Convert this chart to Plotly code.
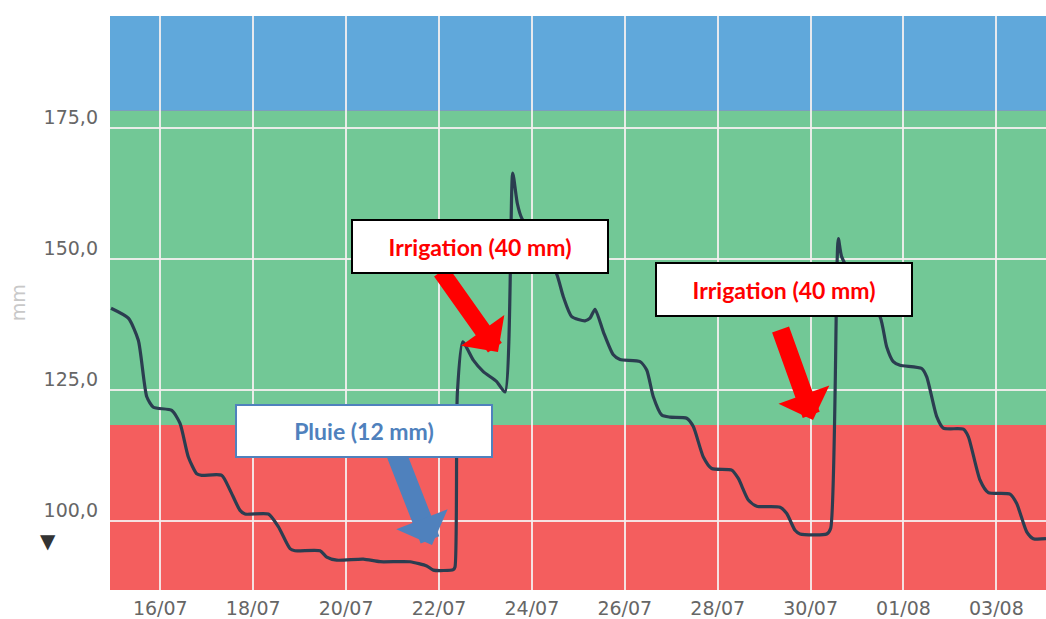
import plotly.graph_objects as go

# ---- data ----
times = [
    "2019-07-14 22:32", "2019-07-15 07:28", "2019-07-15 12:38", "2019-07-15 17:00", "2019-07-15 20:24",
    "2019-07-16 05:53", "2019-07-16 10:11", "2019-07-16 14:28", "2019-07-16 18:48", "2019-07-16 21:23",
    "2019-07-17 07:43", "2019-07-17 12:00", "2019-07-17 17:11", "2019-07-17 19:46", "2019-07-18 07:48",
    "2019-07-18 12:58", "2019-07-18 19:01", "2019-07-18 21:36", "2019-07-19 10:31", "2019-07-19 13:59",
    "2019-07-19 19:09", "2019-07-20 08:53", "2019-07-20 17:31", "2019-07-21 09:01", "2019-07-21 17:39",
    "2019-07-21 21:04", "2019-07-22 07:23", "2019-07-22 08:16", "2019-07-22 09:28", "2019-07-22 12:15",
    "2019-07-22 17:44", "2019-07-22 22:53", "2019-07-23 05:49", "2019-07-23 10:07", "2019-07-23 14:05",
    "2019-07-23 16:28", "2019-07-23 18:44", "2019-07-24 04:11", "2019-07-24 12:49", "2019-07-24 16:14",
    "2019-07-24 20:34", "2019-07-25 03:26", "2019-07-25 06:01", "2019-07-25 08:37", "2019-07-25 12:54",
    "2019-07-25 18:04", "2019-07-25 21:31", "2019-07-26 07:52", "2019-07-26 11:19", "2019-07-26 14:44",
    "2019-07-26 19:04", "2019-07-26 23:22", "2019-07-27 08:00", "2019-07-27 11:24", "2019-07-27 16:34",
    "2019-07-27 20:55", "2019-07-28 07:14", "2019-07-28 10:39", "2019-07-28 15:49", "2019-07-28 20:10",
    "2019-07-29 08:12", "2019-07-29 11:40", "2019-07-29 15:57", "2019-07-29 18:32", "2019-07-30 08:20",
    "2019-07-30 10:24", "2019-07-30 14:19", "2019-07-30 16:05", "2019-07-31 01:32", "2019-07-31 11:52",
    "2019-07-31 15:20", "2019-07-31 18:44", "2019-07-31 22:12", "2019-08-01 09:25", "2019-08-01 12:00",
    "2019-08-01 17:10", "2019-08-01 20:35", "2019-08-02 06:55", "2019-08-02 09:29", "2019-08-02 15:32",
    "2019-08-02 19:50", "2019-08-03 07:02", "2019-08-03 10:30", "2019-08-03 15:40", "2019-08-03 19:05",
    "2019-08-04 01:38",
]
reserve_mm = [
    140.6, 138.7, 134.5, 123.7, 121.7,
    121.1, 118.6, 112.2, 109.0, 108.7,
    108.7, 105.9, 102.0, 101.3, 101.3,
    98.9, 94.7, 94.3, 94.3, 93.1,
    92.5, 92.7, 92.2, 92.2, 91.4,
    90.6, 90.7, 91.2, 124.3, 134.2,
    130.7, 128.5, 126.6, 124.6, 166.4,
    160.6, 157.8, 152.7, 147.1, 142.8,
    139.0, 138.2, 138.7, 140.4, 136.1,
    131.7, 130.8, 130.4, 128.8, 123.7,
    120.2, 119.8, 119.6, 118.0, 112.2,
    110.0, 109.7, 108.1, 104.0, 102.8,
    102.6, 101.4, 98.2, 97.5, 97.5,
    98.6, 153.9, 150.4, 144.1, 139.0,
    133.2, 130.4, 129.7, 129.1, 127.5,
    119.9, 117.7, 117.5, 116.1, 107.8,
    105.4, 105.1, 103.3, 97.9, 96.6,
    96.6,
]

# zone thresholds (mm)
zone_low_top = 118.3     # red zone upper limit
zone_ok_top = 178.3      # green zone upper limit
y_range = [86.8, 196.4]
x_range = ["2019-07-14 22:00", "2019-08-04 01:38"]

tick_values = [100, 125, 150, 175]
tick_labels = ["100,0", "125,0", "150,0", "175,0"]

RED = "#F45E5E"
GREEN = "#72C896"
BLUE = "#60A8DB"
LINE = "#2B3D50"

fig = go.Figure()

fig.add_trace(go.Scatter(
    x=times, y=reserve_mm, mode="lines",
    line=dict(color=LINE, width=3.2, shape="spline", smoothing=0.6),
    hoverinfo="skip", showlegend=False,
))

# coloured zones
fig.add_shape(type="rect", xref="paper", yref="y", x0=0, x1=1,
              y0=y_range[0], y1=zone_low_top, fillcolor=RED, line_width=0, layer="below")
fig.add_shape(type="rect", xref="paper", yref="y", x0=0, x1=1,
              y0=zone_low_top, y1=zone_ok_top, fillcolor=GREEN, line_width=0, layer="below")
fig.add_shape(type="rect", xref="paper", yref="y", x0=0, x1=1,
              y0=zone_ok_top, y1=y_range[1], fillcolor=BLUE, line_width=0, layer="below")

# arrows (drawn first so the boxes cover their tails)
fig.add_annotation(x=0.4145, y=0.4146, xref="paper", yref="paper", text="",
                   showarrow=True, ax=-58, ay=-82, arrowhead=1, arrowsize=0.52,
                   arrowwidth=17, arrowcolor="#FF0000")
fig.add_annotation(x=0.7511, y=0.2962, xref="paper", yref="paper", text="",
                   showarrow=True, ax=-33, ay=-92, arrowhead=1, arrowsize=0.5,
                   arrowwidth=18, arrowcolor="#FF0000")
fig.add_annotation(x=0.3440, y=0.0784, xref="paper", yref="paper", text="",
                   showarrow=True, ax=-36, ay=-92, arrowhead=1, arrowsize=0.46,
                   arrowwidth=20, arrowcolor="#4F81BD")

box_font = dict(family="Lato", size=23, color="#FF0000")
fig.add_annotation(x=0.3953, y=0.5984, xref="paper", yref="paper",
                   xanchor="center", yanchor="middle",
                   text="<b>Irrigation (40 mm)</b>", showarrow=False,
                   font=box_font, bgcolor="white", bordercolor="black",
                   borderwidth=2, borderpad=0, width=254, height=51)
fig.add_annotation(x=0.7201, y=0.5235, xref="paper", yref="paper",
                   xanchor="center", yanchor="middle",
                   text="<b>Irrigation (40 mm)</b>", showarrow=False,
                   font=box_font, bgcolor="white", bordercolor="black",
                   borderwidth=2, borderpad=0, width=254, height=51)
fig.add_annotation(x=0.2714, y=0.2770, xref="paper", yref="paper",
                   xanchor="center", yanchor="middle",
                   text="<b>Pluie (12 mm)</b>", showarrow=False,
                   font=dict(family="Lato", size=23, color="#4F81BD"),
                   bgcolor="white", bordercolor="#4F81BD",
                   borderwidth=2, borderpad=0, width=254, height=50)

# axis title and marker
fig.add_annotation(x=-0.098, y=0.5, xref="paper", yref="paper", text="mm",
                   textangle=-90, showarrow=False, xanchor="center", yanchor="middle",
                   font=dict(family="DejaVu Sans", size=19, color="#C8C8C8"))
fig.add_annotation(x=-0.066, y=0.085, xref="paper", yref="paper", text="▼",
                   showarrow=False, xanchor="center", yanchor="middle",
                   font=dict(family="DejaVu Sans", size=20, color="#333333"))

fig.update_layout(
    width=1046, height=619,
    margin=dict(l=110, r=0, t=16, b=29),
    paper_bgcolor="white", plot_bgcolor=RED,
    font=dict(family="DejaVu Sans", size=19, color="#666666"),
)
fig.update_xaxes(
    type="date", range=x_range, tick0="2019-07-16", dtick=2 * 86400000,
    tickformat="%d/%m", showgrid=True, gridcolor="rgba(245,240,240,0.9)", gridwidth=2,
    zeroline=False, showline=False, ticks="", ticklabelstandoff=5,
    tickfont=dict(family="DejaVu Sans", size=19, color="#666666"),
)
fig.update_yaxes(
    range=y_range, tickvals=tick_values, ticktext=tick_labels,
    showgrid=True, gridcolor="rgba(245,240,240,0.9)", gridwidth=2,
    zeroline=False, showline=False, ticks="", ticklabelshift=-11, ticklabelstandoff=11,
    tickfont=dict(family="DejaVu Sans", size=19, color="#666666"),
)

fig.write_html(
    "out.html",
    config={"displayModeBar": False},
    post_script="document.body.style.margin='0';document.body.style.overflow='hidden';",
)
